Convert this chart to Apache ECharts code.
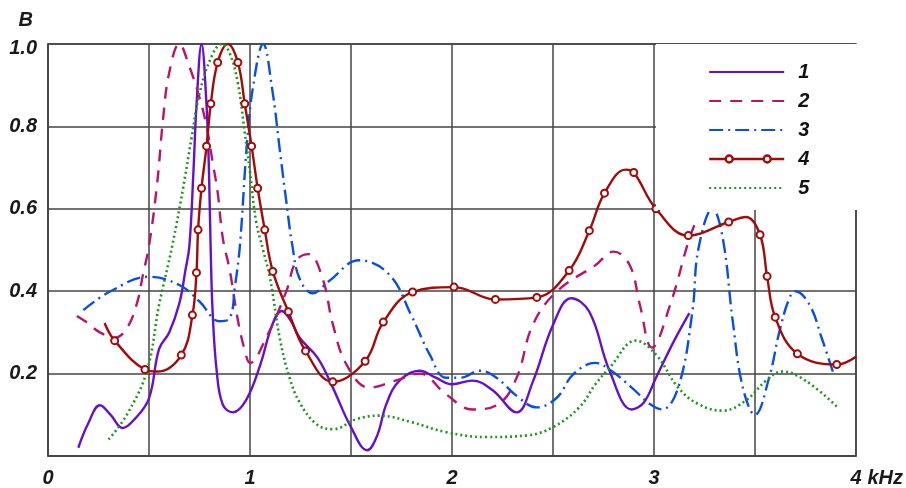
<!DOCTYPE html>
<html>
<head>
<meta charset="utf-8">
<script src="https://cdn.jsdelivr.net/npm/echarts@6/dist/echarts.min.js"></script>
<style>
html,body{margin:0;padding:0;background:#fff;}
#c{width:906px;height:488px;}
</style>
</head>
<body>
<div id="c"></div>
<script>
// ---- data (frequency in kHz, B) ----
const legendNames = ['1', '2', '3', '4', '5'];
const xTicks = [0, 1, 2, 3, 4];
const yTicks = [0.2, 0.4, 0.6, 0.8, 1.0];

const series1 = [[0.15,0.02],[0.2,0.08],[0.257,0.123],[0.31,0.10],[0.37,0.068],[0.43,0.09],[0.5,0.14],[0.55,0.26],[0.6,0.30],[0.65,0.37],[0.68,0.45],[0.70,0.51],[0.72,0.69],[0.735,0.85],[0.76,1.0],[0.785,0.85],[0.797,0.69],[0.805,0.51],[0.815,0.35],[0.835,0.207],[0.865,0.125],[0.915,0.106],[0.98,0.135],[1.05,0.22],[1.11,0.318],[1.157,0.352],[1.2,0.33],[1.246,0.287],[1.335,0.238],[1.41,0.166],[1.5,0.07],[1.58,0.014],[1.63,0.05],[1.675,0.126],[1.74,0.183],[1.84,0.207],[1.92,0.19],[2.0,0.174],[2.1,0.183],[2.2,0.16],[2.32,0.106],[2.4,0.18],[2.5,0.318],[2.59,0.383],[2.68,0.35],[2.78,0.207],[2.89,0.113],[2.95,0.13],[3.01,0.19],[3.1,0.28],[3.175,0.347]];

const series2 = [[0.143,0.34],[0.19,0.325],[0.257,0.3],[0.33,0.287],[0.39,0.31],[0.44,0.37],[0.47,0.44],[0.5,0.51],[0.54,0.66],[0.57,0.82],[0.6,0.93],[0.65,1.0],[0.70,0.945],[0.75,0.87],[0.785,0.80],[0.815,0.713],[0.84,0.64],[0.865,0.53],[0.9,0.45],[0.94,0.33],[0.975,0.255],[1.0,0.226],[1.08,0.287],[1.18,0.4],[1.23,0.475],[1.29,0.49],[1.36,0.43],[1.41,0.32],[1.48,0.22],[1.59,0.166],[1.72,0.183],[1.84,0.2],[1.97,0.15],[2.1,0.113],[2.23,0.126],[2.32,0.19],[2.4,0.318],[2.52,0.4],[2.71,0.463],[2.8,0.496],[2.88,0.463],[2.93,0.367],[2.99,0.263],[3.08,0.367],[3.17,0.52],[3.2,0.56]];

const series3 = [[0.175,0.354],[0.31,0.40],[0.5,0.435],[0.65,0.415],[0.75,0.375],[0.85,0.327],[0.9,0.335],[0.925,0.41],[0.95,0.51],[0.984,0.752],[1.015,0.896],[1.065,1.0],[1.11,0.89],[1.147,0.745],[1.18,0.617],[1.21,0.51],[1.246,0.43],[1.31,0.395],[1.39,0.424],[1.54,0.475],[1.69,0.44],[1.8,0.34],[1.89,0.246],[1.97,0.19],[2.04,0.19],[2.14,0.207],[2.22,0.19],[2.33,0.142],[2.42,0.118],[2.52,0.142],[2.6,0.198],[2.71,0.226],[2.78,0.21],[2.89,0.166],[2.98,0.126],[3.04,0.113],[3.12,0.166],[3.19,0.35],[3.22,0.503],[3.29,0.6],[3.34,0.53],[3.39,0.327],[3.44,0.166],[3.5,0.10],[3.57,0.19],[3.62,0.30],[3.67,0.383],[3.7,0.40],[3.77,0.367],[3.83,0.287],[3.89,0.198]];

const series4 = [[0.28,0.323],[0.33,0.28],[0.48,0.21],[0.54,0.205],[0.66,0.245],[0.715,0.342],[0.735,0.445],[0.743,0.549],[0.76,0.65],[0.785,0.752],[0.806,0.855],[0.84,0.955],[0.89,1.0],[0.94,0.955],[0.974,0.855],[1.008,0.752],[1.038,0.65],[1.073,0.549],[1.113,0.448],[1.19,0.35],[1.275,0.255],[1.41,0.18],[1.57,0.23],[1.66,0.325],[1.805,0.398],[2.01,0.41],[2.215,0.38],[2.42,0.385],[2.58,0.45],[2.68,0.547],[2.755,0.638],[2.86,0.695],[2.9,0.688],[3.01,0.60],[3.17,0.535],[3.37,0.568],[3.455,0.58],[3.525,0.537],[3.56,0.436],[3.6,0.337],[3.71,0.248],[3.905,0.222],[4.0,0.241]];
// indices of series4 points that carry no marker
const series4NoMarker = [0, 3, 12, 31, 36, 42];

const series5 = [[0.3,0.04],[0.39,0.1],[0.49,0.207],[0.55,0.367],[0.615,0.51],[0.668,0.648],[0.71,0.77],[0.75,0.88],[0.81,0.97],[0.86,1.0],[0.9,0.977],[0.94,0.905],[0.974,0.785],[1.0,0.69],[1.03,0.57],[1.065,0.5],[1.1,0.43],[1.147,0.287],[1.196,0.19],[1.246,0.13],[1.33,0.077],[1.41,0.065],[1.53,0.09],[1.64,0.098],[1.8,0.082],[1.97,0.058],[2.17,0.046],[2.37,0.05],[2.5,0.07],[2.63,0.118],[2.71,0.174],[2.78,0.214],[2.91,0.28],[3.01,0.246],[3.12,0.166],[3.22,0.126],[3.34,0.11],[3.455,0.135],[3.555,0.183],[3.635,0.205],[3.75,0.183],[3.905,0.12]];

// ---- chart ----
const FONT = '"Liberation Sans", Arial, sans-serif';
const labelStyle = {fontFamily: FONT, fontSize: 20, fontWeight: 'bold', fontStyle: 'italic', color: '#1a1a1a'};
const gridColor = '#444';
const colors = ['#6410cc', '#b8146e', '#0a4fe0', '#a30a0a', '#1d961d'];

const chart = echarts.init(document.getElementById('c'), null, {renderer: 'canvas'});

const s4data = series4.map((p, i) => series4NoMarker.includes(i) ? {value: p, symbol: 'none'} : {value: p});

// legend sample for series 4: line with two hollow markers
const markerIcon = 'path://M0 3.5L16.5 3.5M23.5 3.5L54.5 3.5M61.5 3.5L75 3.5' +
  'M16.5 3.5A3.5 3.5 0 1 0 23.5 3.5A3.5 3.5 0 1 0 16.5 3.5Z' +
  'M54.5 3.5A3.5 3.5 0 1 0 61.5 3.5A3.5 3.5 0 1 0 54.5 3.5Z';

const legendData = legendNames.map((n, i) => i === 3
  ? {name: n, icon: markerIcon, itemStyle: {color: '#fff', borderColor: colors[3], borderWidth: 2.4}}
  : {name: n, itemStyle: {opacity: 0}});

const option = {
  animation: false,
  backgroundColor: '#fff',
  grid: {left: 48, right: 49, top: 44, bottom: 29, show: true, borderColor: gridColor, borderWidth: 1.5},
  legend: {
    data: legendData,
    orient: 'vertical',
    left: 656, top: 44,
    padding: [18, 49, 12, 52],
    itemWidth: 75, itemHeight: 7, itemGap: 9,
    backgroundColor: '#fff',
    textStyle: Object.assign({}, labelStyle, {color: '#111', padding: [0, 0, 0, 9]})
  },
  xAxis: {
    type: 'value', min: 0, max: 4, interval: 0.5,
    name: 'kHz', nameLocation: 'end', nameGap: 11,
    nameTextStyle: Object.assign({}, labelStyle, {align: 'left', verticalAlign: 'top', padding: [12, 0, 0, 0]}),
    axisLine: {show: true, lineStyle: {color: gridColor, width: 1.5}},
    axisTick: {show: false},
    splitLine: {show: true, lineStyle: {color: gridColor, width: 1.5}},
    axisLabel: Object.assign({}, labelStyle, {margin: 12, showMaxLabel: true, showMinLabel: true,
      formatter: v => xTicks.includes(v) ? String(v) : ''})
  },
  yAxis: {
    type: 'value', min: 0, max: 1, interval: 0.2,
    name: 'B', nameLocation: 'end', nameGap: 14,
    nameTextStyle: Object.assign({}, labelStyle, {align: 'right', padding: [0, 15, 0, 0]}),
    axisLine: {show: true, lineStyle: {color: gridColor, width: 1.5}},
    axisTick: {show: false},
    splitLine: {show: true, lineStyle: {color: gridColor, width: 1.5}},
    axisLabel: Object.assign({}, labelStyle, {margin: 11,
      formatter: v => {
        if (!yTicks.some(t => Math.abs(t - v) < 1e-9)) return '';
        return v >= 0.999 ? '{top|' + v.toFixed(1) + '}' : v.toFixed(1);
      },
      rich: {top: Object.assign({}, labelStyle, {padding: [8, 0, 0, 0]})}
    })
  },
  series: [
    {name: '1', type: 'line', data: series1, smooth: 0.4, showSymbol: false, symbol: 'none',
     color: colors[0], lineStyle: {color: colors[0], width: 2.4}},
    {name: '2', type: 'line', data: series2, smooth: 0.4, showSymbol: false, symbol: 'none',
     color: colors[1], lineStyle: {color: colors[1], width: 2.4, type: [12, 9]}},
    {name: '3', type: 'line', data: series3, smooth: 0.4, showSymbol: false, symbol: 'none',
     color: colors[2], lineStyle: {color: colors[2], width: 2.4, type: [14, 5, 2, 5]}},
    {name: '4', type: 'line', data: s4data, smooth: 0.4, symbol: 'circle', symbolSize: 7, showSymbol: true,
     color: colors[3], lineStyle: {color: colors[3], width: 2.4},
     itemStyle: {color: '#fff', borderColor: colors[3], borderWidth: 2}},
    {name: '5', type: 'line', data: series5, smooth: 0.4, showSymbol: false, symbol: 'none',
     color: colors[4], lineStyle: {color: colors[4], width: 2.6, type: [2, 3]}}
  ]
};
chart.setOption(option);
</script>
</body>
</html>
